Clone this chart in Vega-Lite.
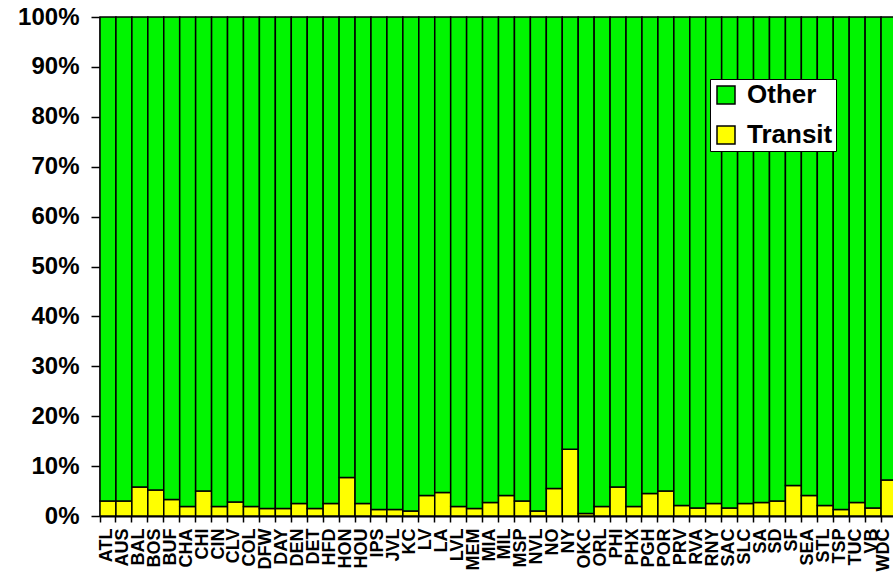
{
  "$schema": "https://vega.github.io/schema/vega-lite/v6.json",
  "width": 793,
  "height": 499,
  "autosize": {"type": "none"},
  "padding": {"left": 100, "top": 17, "right": 0, "bottom": 57},
  "background": "white",
  "config": {
    "view": {"stroke": null},
    "font": "Liberation Sans"
  },
  "data": {
    "values": [
      {"city":"ATL","type":"Transit","value":3.0},{"city":"ATL","type":"Other","value":97.0},
      {"city":"AUS","type":"Transit","value":3.0},{"city":"AUS","type":"Other","value":97.0},
      {"city":"BAL","type":"Transit","value":5.8},{"city":"BAL","type":"Other","value":94.2},
      {"city":"BOS","type":"Transit","value":5.2},{"city":"BOS","type":"Other","value":94.8},
      {"city":"BUF","type":"Transit","value":3.3},{"city":"BUF","type":"Other","value":96.7},
      {"city":"CHA","type":"Transit","value":1.9},{"city":"CHA","type":"Other","value":98.1},
      {"city":"CHI","type":"Transit","value":5.0},{"city":"CHI","type":"Other","value":95.0},
      {"city":"CIN","type":"Transit","value":1.9},{"city":"CIN","type":"Other","value":98.1},
      {"city":"CLV","type":"Transit","value":2.8},{"city":"CLV","type":"Other","value":97.2},
      {"city":"COL","type":"Transit","value":1.9},{"city":"COL","type":"Other","value":98.1},
      {"city":"DFW","type":"Transit","value":1.5},{"city":"DFW","type":"Other","value":98.5},
      {"city":"DAY","type":"Transit","value":1.5},{"city":"DAY","type":"Other","value":98.5},
      {"city":"DEN","type":"Transit","value":2.5},{"city":"DEN","type":"Other","value":97.5},
      {"city":"DET","type":"Transit","value":1.5},{"city":"DET","type":"Other","value":98.5},
      {"city":"HFD","type":"Transit","value":2.5},{"city":"HFD","type":"Other","value":97.5},
      {"city":"HON","type":"Transit","value":7.7},{"city":"HON","type":"Other","value":92.3},
      {"city":"HOU","type":"Transit","value":2.5},{"city":"HOU","type":"Other","value":97.5},
      {"city":"IPS","type":"Transit","value":1.3},{"city":"IPS","type":"Other","value":98.7},
      {"city":"JVL","type":"Transit","value":1.3},{"city":"JVL","type":"Other","value":98.7},
      {"city":"KC","type":"Transit","value":1.0},{"city":"KC","type":"Other","value":99.0},
      {"city":"LV","type":"Transit","value":4.1},{"city":"LV","type":"Other","value":95.9},
      {"city":"LA","type":"Transit","value":4.7},{"city":"LA","type":"Other","value":95.3},
      {"city":"LVL","type":"Transit","value":1.9},{"city":"LVL","type":"Other","value":98.1},
      {"city":"MEM","type":"Transit","value":1.5},{"city":"MEM","type":"Other","value":98.5},
      {"city":"MIA","type":"Transit","value":2.7},{"city":"MIA","type":"Other","value":97.3},
      {"city":"MIL","type":"Transit","value":4.1},{"city":"MIL","type":"Other","value":95.9},
      {"city":"MSP","type":"Transit","value":3.0},{"city":"MSP","type":"Other","value":97.0},
      {"city":"NVL","type":"Transit","value":1.0},{"city":"NVL","type":"Other","value":99.0},
      {"city":"NO","type":"Transit","value":5.5},{"city":"NO","type":"Other","value":94.5},
      {"city":"NY","type":"Transit","value":13.4},{"city":"NY","type":"Other","value":86.6},
      {"city":"OKC","type":"Transit","value":0.5},{"city":"OKC","type":"Other","value":99.5},
      {"city":"ORL","type":"Transit","value":1.9},{"city":"ORL","type":"Other","value":98.1},
      {"city":"PHI","type":"Transit","value":5.8},{"city":"PHI","type":"Other","value":94.2},
      {"city":"PHX","type":"Transit","value":1.9},{"city":"PHX","type":"Other","value":98.1},
      {"city":"PGH","type":"Transit","value":4.5},{"city":"PGH","type":"Other","value":95.5},
      {"city":"POR","type":"Transit","value":5.0},{"city":"POR","type":"Other","value":95.0},
      {"city":"PRV","type":"Transit","value":2.1},{"city":"PRV","type":"Other","value":97.9},
      {"city":"RVA","type":"Transit","value":1.6},{"city":"RVA","type":"Other","value":98.4},
      {"city":"RNY","type":"Transit","value":2.5},{"city":"RNY","type":"Other","value":97.5},
      {"city":"SAC","type":"Transit","value":1.6},{"city":"SAC","type":"Other","value":98.4},
      {"city":"SLC","type":"Transit","value":2.5},{"city":"SLC","type":"Other","value":97.5},
      {"city":"SA","type":"Transit","value":2.7},{"city":"SA","type":"Other","value":97.3},
      {"city":"SD","type":"Transit","value":3.0},{"city":"SD","type":"Other","value":97.0},
      {"city":"SF","type":"Transit","value":6.1},{"city":"SF","type":"Other","value":93.9},
      {"city":"SEA","type":"Transit","value":4.1},{"city":"SEA","type":"Other","value":95.9},
      {"city":"STL","type":"Transit","value":2.1},{"city":"STL","type":"Other","value":97.9},
      {"city":"TSP","type":"Transit","value":1.3},{"city":"TSP","type":"Other","value":98.7},
      {"city":"TUC","type":"Transit","value":2.7},{"city":"TUC","type":"Other","value":97.3},
      {"city":"VB","type":"Transit","value":1.6},{"city":"VB","type":"Other","value":98.4},
      {"city":"WDC","type":"Transit","value":7.2},{"city":"WDC","type":"Other","value":92.8}
    ]
  },
  "mark": {"type": "bar", "stroke": "black", "strokeWidth": 1.5},
  "encoding": {
    "x": {
      "field": "city",
      "type": "nominal",
      "sort": null,
      "scale": {"paddingInner": 0, "paddingOuter": 0, "range": [0, 797]},
      "axis": {
        "title": null,
        "labelAngle": -90,
        "bandPosition": 0,
        "labelOffset": {"condition": {"test": "datum.value == 'WDC'", "value": -5}, "value": -1},
        "labelFont": "Liberation Sans",
        "labelFontWeight": "bold",
        "labelFontSize": 18,
        "labelColor": "black",
        "labelPadding": 6,
        "labelLimit": 60,
        "tickColor": "black",
        "tickSize": 6,
        "tickWidth": 1.5,
        "domainColor": "black",
        "domainWidth": 2
      }
    },
    "y": {
      "field": "value",
      "type": "quantitative",
      "stack": "normalize",
      "scale": {"domain": [0, 1], "nice": false},
      "axis": {
        "title": null,
        "format": ".0%",
        "values": [0, 0.1, 0.2, 0.3, 0.4, 0.5, 0.6, 0.7, 0.8, 0.9, 1],
        "grid": false,
        "labelFont": "Liberation Sans",
        "labelFontWeight": "bold",
        "labelFontSize": 24,
        "labelColor": "black",
        "labelPadding": 12,
        "tickColor": "black",
        "tickSize": 9,
        "tickWidth": 1.5,
        "domainColor": "black",
        "domainWidth": 2
      }
    },
    "color": {
      "field": "type",
      "type": "nominal",
      "sort": ["Other", "Transit"],
      "scale": {"domain": ["Other", "Transit"], "range": ["#00F500", "#FFFF00"]},
      "legend": {
        "title": null,
        "orient": "none",
        "legendX": 610,
        "legendY": 62,
        "fillColor": "white",
        "strokeColor": "black",
        "padding": 3,
        "symbolType": "square",
        "symbolSize": 324,
        "symbolStrokeColor": "black",
        "symbolStrokeWidth": 1.5,
        "symbolOpacity": 1,
        "labelFont": "Liberation Sans",
        "labelFontWeight": "bold",
        "labelFontSize": 26,
        "labelColor": "black",
        "labelOffset": 8,
        "rowPadding": 14,
        "labelLimit": 200
      }
    },
    "order": {"field": "type", "sort": "descending"}
  }
}
